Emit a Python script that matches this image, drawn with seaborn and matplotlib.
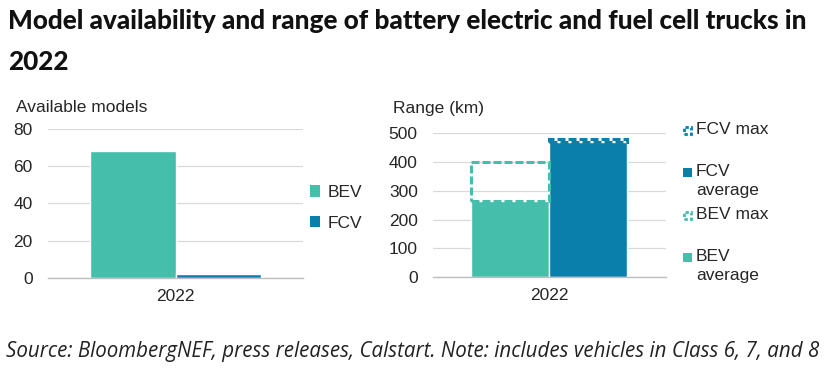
import pandas as pd
import numpy as np
import seaborn as sns
import matplotlib.pyplot as plt
from matplotlib.patches import Patch, Rectangle

# data
years = ["2022"]
vehicle_types = ["BEV", "FCV"]
model_counts = [68, 2]
range_avg = [265, 470]
range_max = [400, 480]

teal = "#45BEAB"
blue = "#0B7FAB"
grid_col = "#D9D9D9"
palette = {"BEV": teal, "FCV": blue}
dash = (0, (2.6, 1.0))

sns.set_style("white")
plt.rcParams['font.family'] = ['Liberation Sans', 'DejaVu Sans']

df_models = pd.DataFrame({
    "year": years * len(vehicle_types),
    "type": vehicle_types,
    "count": model_counts,
})
df_range = pd.DataFrame({
    "year": years * len(vehicle_types),
    "type": vehicle_types,
    "avg": range_avg,
    "max": range_max,
})

W, H = 828, 374
fig = plt.figure(figsize=(W / 100, H / 100), dpi=100)
ax1 = fig.add_axes([0.058, 0.257, 0.308, 0.398])
ax2 = fig.add_axes([0.523, 0.259, 0.281, 0.385])


def style_axis(ax, ymax, step):
    ax.set_ylim(0, ymax)
    ax.set_yticks(np.arange(0, ymax + 1, step))
    ax.yaxis.grid(True, color=grid_col, linewidth=0.9)
    ax.set_axisbelow(True)
    for s in ["top", "right", "left"]:
        ax.spines[s].set_visible(False)
    ax.spines["bottom"].set_color("#BFBFBF")
    ax.spines["bottom"].set_linewidth(1.0)
    ax.tick_params(axis="y", length=0, labelsize=12.5, pad=11)
    ax.tick_params(axis="x", length=0, labelsize=12.5, pad=8)
    ax.set_xticks([-0.5, 0.5], minor=True)
    ax.tick_params(axis="x", which="minor", length=5, color="#BFBFBF", width=1.0)
    ax.set_xlim(-0.5, 0.5)
    ax.set_xlabel("")
    ax.set_ylabel("")


# left panel: model availability
sns.barplot(data=df_models, x="year", y="count", hue="type", palette=palette,
            width=0.67, gap=0, saturation=1, legend=False, ax=ax1)
style_axis(ax1, 80, 20)
fig.text(16 / W, 1 - 108 / H, "Available models", fontsize=12.5, ha="left", va="center")
h1 = [Patch(facecolor=palette[t], edgecolor="none", label=t) for t in vehicle_types]
ax1.legend(handles=h1, loc="center left", bbox_to_anchor=(1.0, 0.47), frameon=False,
           fontsize=12.5, handlelength=0.6, handleheight=0.6, handletextpad=0.4,
           labelspacing=0.9, borderaxespad=0)

# right panel: average bars, then the max drawn as a dashed box from average up to max
sns.barplot(data=df_range, x="year", y="avg", hue="type", palette=palette,
            width=0.67, gap=0, saturation=1, legend=False, ax=ax2)
n_avg = len(ax2.patches)
sns.barplot(data=df_range, x="year", y="max", hue="type", palette=palette,
            width=0.67, gap=0, saturation=1, legend=False, ax=ax2)
for p, t, lo in zip(ax2.patches[n_avg:], vehicle_types, range_avg):
    top = p.get_y() + p.get_height()
    p.set_y(lo)
    p.set_height(top - lo)
    p.set_facecolor("none")
    p.set_edgecolor(palette[t])
    p.set_linewidth(2.2)
    p.set_linestyle(dash)
    p.set_zorder(4)
style_axis(ax2, 500, 100)
fig.text(393 / W, 1 - 108 / H, "Range (km)", fontsize=12.5, ha="left", va="center")

# right legend, placed by hand so two-line labels sit like the original
leg_items = [
    ("FCV max", blue, False, 130),
    ("FCV\naverage", blue, True, 172),
    ("BEV max", teal, False, 215),
    ("BEV\naverage", teal, True, 257),
]
for label, col, solid, yc in leg_items:
    x0, s = 683, 9
    if solid:
        r = Rectangle((x0 / W, 1 - (yc + s / 2) / H), s / W, s / H, transform=fig.transFigure,
                      facecolor=col, edgecolor="none")
    else:
        r = Rectangle(((x0 + 1) / W, 1 - (yc + s / 2 - 1) / H), (s - 2) / W, (s - 2) / H,
                      transform=fig.transFigure, facecolor="white", edgecolor=col,
                      linewidth=2.0, linestyle=(0, (1.2, 0.8)))
    fig.patches.append(r)
    fig.text(696 / W, 1 - (yc - 8) / H, label, fontsize=12.5, ha="left", va="top",
             linespacing=1.3)

fig.text(0.01, 0.975, "Model availability and range of battery electric and fuel cell trucks in\n2022",
         fontsize=18.8, fontweight="black", family=["Lato", "DejaVu Sans"],
         ha="left", va="top", linespacing=1.85, color="#111111")
fig.text(0.007, 1 - 352 / H, "Source: BloombergNEF, press releases, Calstart. Note: includes vehicles in Class 6, 7, and 8",
         fontsize=14.8, style="italic", family=["Open Sans", "DejaVu Sans"],
         ha="left", va="center", color="#222222")

fig.savefig("out.png", dpi=100)
